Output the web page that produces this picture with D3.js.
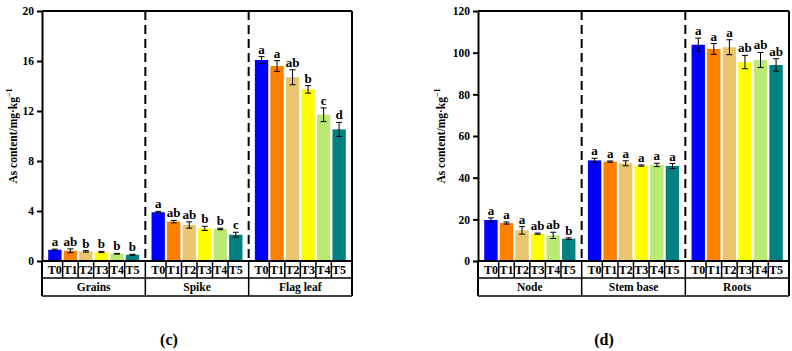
<!DOCTYPE html>
<html><head><meta charset="utf-8">
<script src="https://cdn.jsdelivr.net/npm/d3@7"></script>
<style>body{margin:0;background:#fff}svg{display:block}svg text{font-family:"Liberation Serif","DejaVu Serif",serif !important}</style>
</head><body>
<script>
const treatments = ["T0","T1","T2","T3","T4","T5"];
const colors = ["#0000FF","#FF8000","#EBC46E","#FFFF00","#BBEA74","#008080"];

const groupsC = ["Grains","Spike","Flag leaf"];
const valuesC = [
  [0.90,0.82,0.77,0.72,0.58,0.50],
  [3.90,3.15,2.88,2.61,2.56,2.10],
  [16.08,15.60,14.70,13.73,11.70,10.53]
];
const errorsC = [
  [0.05,0.15,0.06,0.05,0.03,0.04],
  [0.07,0.10,0.25,0.17,0.06,0.20],
  [0.27,0.43,0.60,0.30,0.55,0.56]
];
const lettersC = [
  ["a","ab","b","b","b","b"],
  ["a","ab","ab","b","b","c"],
  ["a","a","ab","b","c","d"]
];
const ticksC = [0,4,8,12,16,20];

const groupsD = ["Node","Stem base","Roots"];
const valuesD = [
  [19.7,18.2,14.7,13.1,12.3,10.7],
  [48.3,47.7,46.9,45.8,46.1,45.6],
  [103.8,101.8,102.6,95.5,96.5,94.1]
];
const errorsD = [
  [1.0,0.5,1.8,0.3,1.5,0.4],
  [1.0,0.3,1.2,0.3,0.8,1.2],
  [3.2,2.6,3.6,3.2,3.6,3.0]
];
const lettersD = [
  ["a","a","a","ab","ab","b"],
  ["a","a","a","a","a","a"],
  ["a","a","a","ab","ab","ab"]
];
const ticksD = [0,20,40,60,80,100,120];

const W = 792, H = 351;
const FONT = "Liberation Serif";
const svg = d3.select("body").append("svg").attr("width",W).attr("height",H)
  .attr("font-family",FONT);

function panel(cfg){
  const {x0,x1,groups,values,errors,letters,ticks,labelX,caption,capX} = cfg;
  const yTop = 11, yZero = 261, yRow1 = 278, yRow2 = 296;
  const g = svg.append("g");
  const y = d3.scaleLinear().domain([0, ticks[ticks.length-1]]).range([yZero, yTop]);
  const gx = d3.scaleBand().domain(groups).range([x0, x1]).padding(0);

  groups.slice(1).forEach(gr => {
    g.append("line").attr("x1",gx(gr)).attr("x2",gx(gr)).attr("y1",yTop).attr("y2",yZero)
      .attr("stroke","#000").attr("stroke-width",2).attr("stroke-dasharray","9,5");
  });

  groups.forEach((gr, gi) => {
    const bx = d3.scaleBand().domain(treatments).range([gx(gr), gx(gr)+gx.bandwidth()])
      .paddingInner(0.14).paddingOuter(0.4);
    treatments.forEach((t, ti) => {
      const v = values[gi][ti], e = errors[gi][ti];
      const cx = bx(t) + bx.bandwidth()/2;
      g.append("rect").attr("x",bx(t)).attr("y",y(v)).attr("width",bx.bandwidth())
        .attr("height",yZero - y(v)).attr("fill",colors[ti]);
      const eg = g.append("g").attr("stroke","#000").attr("stroke-width",1);
      eg.append("line").attr("x1",cx).attr("x2",cx).attr("y1",y(v+e)).attr("y2",y(v-e));
      eg.append("line").attr("x1",cx-3).attr("x2",cx+3).attr("y1",y(v+e)).attr("y2",y(v+e));
      eg.append("line").attr("x1",cx-3).attr("x2",cx+3).attr("y1",y(v-e)).attr("y2",y(v-e));
      g.append("text").attr("x",cx).attr("y",y(v+e)-3).attr("text-anchor","middle")
        .attr("font-size",13).attr("font-weight","bold").attr("font-family",FONT).text(letters[gi][ti]);
      g.append("text").attr("x",cx).attr("y",(yZero+yRow1)/2+4.5).attr("text-anchor","middle")
        .attr("font-size",12).attr("font-weight","bold").attr("font-family",FONT).text(t);
      if (ti < treatments.length-1) {
        const nx = bx(treatments[ti+1]);
        const dx = (bx(t)+bx.bandwidth()+nx)/2;
        g.append("line").attr("x1",dx).attr("x2",dx).attr("y1",yZero).attr("y2",yRow1)
          .attr("stroke","#000").attr("stroke-width",1.5);
      }
    });
    g.append("text").attr("x",gx(gr)+gx.bandwidth()/2).attr("y",(yRow1+yRow2)/2+4)
      .attr("text-anchor","middle").attr("font-size",11.5).attr("font-weight","bold")
      .attr("font-family",FONT).text(gr);
    if (gi > 0) {
      g.append("line").attr("x1",gx(gr)).attr("x2",gx(gr)).attr("y1",yZero).attr("y2",yRow2)
        .attr("stroke","#000").attr("stroke-width",1.5);
    }
  });

  [yRow1, yRow2].forEach(yy => g.append("line").attr("x1",x0).attr("x2",x1).attr("y1",yy).attr("y2",yy)
    .attr("stroke","#000").attr("stroke-width",1.5));
  g.append("line").attr("x1",x0).attr("x2",x0).attr("y1",yZero).attr("y2",yRow2).attr("stroke","#000").attr("stroke-width",2);
  g.append("line").attr("x1",x1).attr("x2",x1).attr("y1",yTop).attr("y2",yRow2).attr("stroke","#000").attr("stroke-width",2);
  g.append("line").attr("x1",x0).attr("x2",x1).attr("y1",yTop).attr("y2",yTop).attr("stroke","#000").attr("stroke-width",2);
  g.append("line").attr("x1",x0).attr("x2",x1).attr("y1",yZero).attr("y2",yZero).attr("stroke","#000").attr("stroke-width",2);

  const ax = g.append("g").attr("transform",`translate(${x0},0)`)
    .call(d3.axisLeft(y).tickValues(ticks).tickSize(5).tickPadding(3).tickSizeOuter(0));
  ax.attr("font-family",FONT);
  ax.select(".domain").attr("stroke-width",2);
  ax.selectAll(".tick line").attr("stroke-width",2);
  ax.selectAll(".tick text").attr("font-size",11.5).attr("font-weight","bold").attr("font-family",FONT);

  const lab = g.append("text").attr("transform",`translate(${labelX},${(yTop+yZero)/2}) rotate(-90)`)
    .attr("text-anchor","middle").attr("font-size",11.5).attr("font-weight","bold").attr("font-family",FONT);
  lab.append("tspan").text("As content/mg·kg");
  lab.append("tspan").attr("dy",-5).attr("font-size",8).text("−1");

  g.append("text").attr("x",capX).attr("y",345).attr("text-anchor","middle")
    .attr("font-size",16).attr("font-weight","bold").attr("font-family",FONT).text(caption);
}

panel({x0:42, x1:352, groups:groupsC, values:valuesC, errors:errorsC, letters:lettersC,
  ticks:ticksC, labelX:17, caption:"(c)", capX:169});
panel({x0:478, x1:789, groups:groupsD, values:valuesD, errors:errorsD, letters:lettersD,
  ticks:ticksD, labelX:445, caption:"(d)", capX:604});
</script>
</body></html>
